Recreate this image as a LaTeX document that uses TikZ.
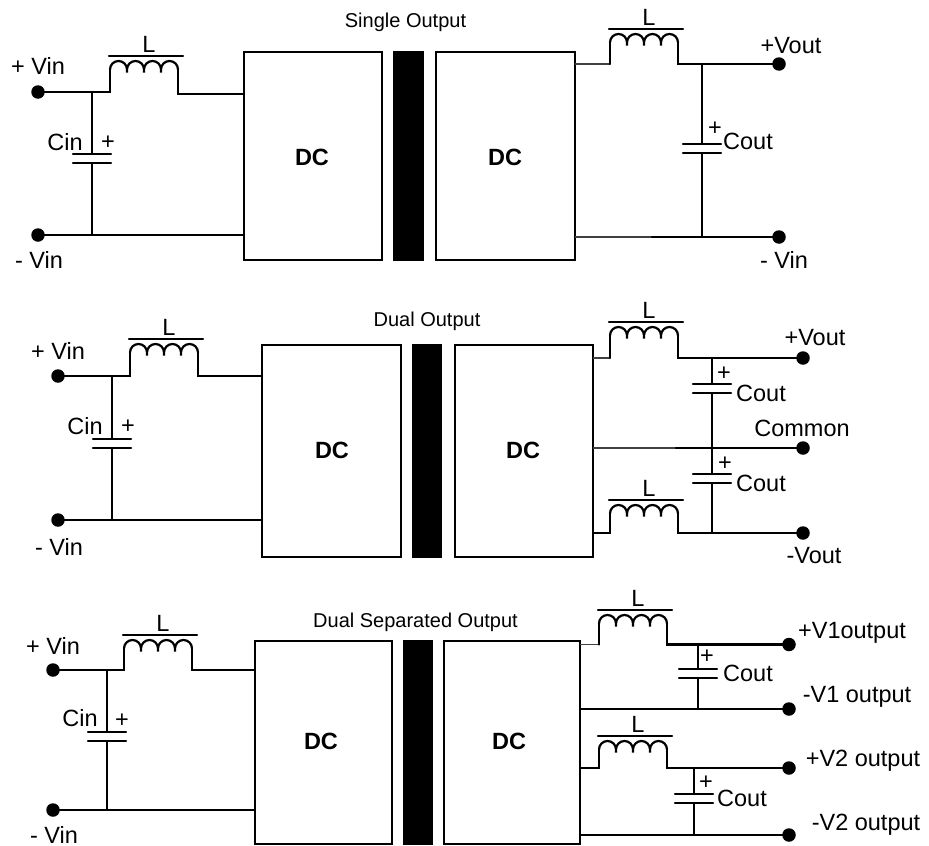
\documentclass[tikz,border=0pt]{standalone}
\usepackage{fontspec}
\setmainfont{Liberation Sans}
\usetikzlibrary{positioning, calc}

\begin{document}
\begin{tikzpicture}
    [
        x=1pt, y=-1pt,
        wire/.style={line width=2.2pt, line cap=round},
        thin_wire/.style={line width=1.4pt, draw=black!75},
        txt/.style={inner sep=0pt, font=\fontsize{23.5}{26}\selectfont},
        title_txt/.style={inner sep=0pt, font=\fontsize{20}{24}\selectfont},
        dc_txt/.style={inner sep=0pt, font=\fontsize{23.5}{26}\selectfont\bfseries},
        dc_box/.style={rectangle, draw=black, line width=2.2pt, inner sep=0pt, outer sep=0pt},
        core_bar/.style={rectangle, fill=black, inner sep=0pt},
        terminal/.style={circle, fill=black, inner sep=0pt, minimum size=13.5pt},
        coil/.pic={
          \coordinate (in) at (0,0);
          \coordinate (out) at (68,0);
          \draw[wire] (in) arc (180:0:8.5pt) -- ++(0,3) -- ++(0,-3) arc (180:0:8.5pt) -- ++(0,3) -- ++(0,-3) arc (180:0:8.5pt) -- ++(0,3) -- ++(0,-3) arc (180:0:8.5pt);
          \draw[wire] (-1,-13.5) -- (73,-13.5);
          \node[txt] (name) at (39,-25) {L};
        },
        cap/.pic={
          \coordinate (in) at (0,0);
          \coordinate (out) at (0,9);
          \draw[wire] (-19,0) -- (19,0);
          \draw[wire] (-19,9) -- (19,9);
        },
    ]

  \useasboundingbox (0,0) rectangle (929,846);

  \node[title_txt] (titleA) at (405.5,22) {Single Output};
  \node[dc_box, minimum width=138pt, minimum height=208pt] (boxA) at (313,156) {};
  \node[core_bar, minimum width=31pt, minimum height=210pt] (barA) at (408.5,156) {};
  \node[dc_box, minimum width=139pt, minimum height=208pt] (boxB) at (505.5,156) {};
  \node[dc_txt] (dcA) at (312,157) {DC};
  \node[dc_txt] (dcB) at (505,157) {DC};
  \node[terminal] (vinPA) at (38,92) {};
  \node[terminal] (vinNA) at (38,235) {};
  \node[terminal] (voutPA) at (779,64) {};
  \node[terminal] (voutNA) at (779,237) {};
  \node[txt] (vinPAtxt) at (38,66) {+ Vin};
  \node[txt] (vinNAtxt) at (39,260) {- Vin};
  \node[txt] (voutPAtxt) at (791,46) {+Vout};
  \node[txt] (voutNAtxt) at (784,260) {- Vin};
  \node[txt] (cinAtxt) at (65,142) {Cin};
  \node[txt] (cinAplus) at (108,143) {+};
  \node[txt] (coutAtxt) at (748,141) {Cout};
  \node[txt] (coutAplus) at (715,129) {+};
  \coordinate (inA) at (244,94);
  \coordinate (outA) at (575,64);
  \coordinate (outNA) at (575,237);
  \coordinate (outNAb) at (652,237);
  \pic (coilA) at (110,69.5) {coil};
  \pic (coilB) at (610,42.5) {coil};
  \pic (capA) at (92,154) {cap};
  \pic (capB) at (702,144) {cap};

  \draw[wire] (vinPA.center) -| (coilAin);
  \draw[wire] (coilAout) |- (inA);
  \draw[wire] (vinNA.center) -- (boxA.west |- vinNA.center);
  \draw[wire] (capAin |- vinPA.center) -- (capAin);
  \draw[wire] (capAout) -- (capAout |- vinNA.center);
  \draw[thin_wire] (outA) -- (coilBin |- outA);
  \draw[wire] (coilBin |- outA) -- (coilBin);
  \draw[wire] (coilBout) |- (voutPA.center);
  \draw[thin_wire] (outNA) -- (outNAb);
  \draw[wire] (outNAb) -- (voutNA.center);
  \draw[wire] (capBin |- voutPA.center) -- (capBin);
  \draw[wire] (capBout) -- (capBout |- voutNA.center);

  \node[title_txt] (titleC) at (427,321) {Dual Output};
  \node[dc_box, minimum width=139pt, minimum height=212pt] (boxC) at (331.5,451) {};
  \node[core_bar, minimum width=30pt, minimum height=214pt] (barC) at (427,451) {};
  \node[dc_box, minimum width=138pt, minimum height=212pt] (boxD) at (524,451) {};
  \node[dc_txt] (dcC) at (332,450) {DC};
  \node[dc_txt] (dcD) at (523,450) {DC};
  \node[terminal] (vinPC) at (58,376) {};
  \node[terminal] (vinNC) at (58,520) {};
  \node[terminal] (voutPC) at (803,358) {};
  \node[terminal] (commonC) at (803,448) {};
  \node[terminal] (voutNC) at (803,533) {};
  \node[txt] (vinPCtxt) at (58,351) {+ Vin};
  \node[txt] (vinNCtxt) at (59,547) {- Vin};
  \node[txt] (voutPCtxt) at (815,338) {+Vout};
  \node[txt] (commonCtxt) at (802,428) {Common};
  \node[txt] (voutNCtxt) at (814,556) {-Vout};
  \node[txt] (cinCtxt) at (85,426) {Cin};
  \node[txt] (cinCplus) at (128,427) {+};
  \node[txt] (coutCtxt) at (761,393) {Cout};
  \node[txt] (coutCplus) at (724,374) {+};
  \node[txt] (coutDtxt) at (761,483) {Cout};
  \node[txt] (coutDplus) at (725,464) {+};
  \coordinate (inC) at (262,376);
  \coordinate (outC) at (593,358);
  \coordinate (outCm) at (593,448);
  \coordinate (outCmb) at (676,448);
  \coordinate (outDn) at (593,533);
  \pic (coilC) at (130,352.5) {coil};
  \pic (coilD) at (610,335.5) {coil};
  \pic (coilE) at (610,513.5) {coil};
  \pic (capC) at (112,439) {cap};
  \pic (capD) at (712,384) {cap};
  \pic (capE) at (712,474) {cap};

  \draw[wire] (vinPC.center) -| (coilCin);
  \draw[wire] (coilCout) |- (inC);
  \draw[wire] (vinNC.center) -- (boxC.west |- vinNC.center);
  \draw[wire] (capCin |- vinPC.center) -- (capCin);
  \draw[wire] (capCout) -- (capCout |- vinNC.center);
  \draw[thin_wire] (outC) -- (coilDin |- outC);
  \draw[wire] (coilDin |- outC) -- (coilDin);
  \draw[wire] (coilDout) |- (voutPC.center);
  \draw[thin_wire] (outCm) -- (outCmb);
  \draw[wire] (outCmb) -- (commonC.center);
  \draw[wire] (outDn) -| (coilEin);
  \draw[wire] (coilEout) |- (voutNC.center);
  \draw[wire] (capDin |- voutPC.center) -- (capDin);
  \draw[wire] (capDout) -- (capEin);
  \draw[wire] (capEout) -- (capEout |- voutNC.center);

  \node[title_txt] (titleF) at (415.5,622) {Dual Separated Output};
  \node[dc_box, minimum width=137pt, minimum height=203pt] (boxF) at (323.5,742.5) {};
  \node[core_bar, minimum width=30pt, minimum height=205pt] (barF) at (418,742.5) {};
  \node[dc_box, minimum width=136pt, minimum height=203pt] (boxG) at (512,742.5) {};
  \node[dc_txt] (dcF) at (321,741) {DC};
  \node[dc_txt] (dcG) at (509,741) {DC};
  \node[terminal] (vinPF) at (53,670) {};
  \node[terminal] (vinNF) at (53,810) {};
  \node[terminal] (vOnePF) at (789,644.5) {};
  \node[terminal] (vOneNF) at (789,709) {};
  \node[terminal] (vTwoPF) at (789,768) {};
  \node[terminal] (vTwoNF) at (789,835) {};
  \node[txt] (vinPFtxt) at (53,646) {+ Vin};
  \node[txt] (vinNFtxt) at (54,835) {- Vin};
  \node[txt] (vOnePFtxt) at (852,633) {+V1output};
  \node[txt] (vOneNFtxt) at (857,697) {-V1 output};
  \node[txt] (vTwoPFtxt) at (863,761) {+V2 output};
  \node[txt] (vTwoNFtxt) at (866,825) {-V2 output};
  \node[txt] (cinFtxt) at (80,718) {Cin};
  \node[txt] (cinFplus) at (122,721) {+};
  \node[txt] (coutFtxt) at (748,673) {Cout};
  \node[txt] (coutFplus) at (707,657) {+};
  \node[txt] (coutGtxt) at (742,798) {Cout};
  \node[txt] (coutGplus) at (706,783) {+};
  \coordinate (inF) at (255,670);
  \coordinate (outF) at (580,644.5);
  \coordinate (outFn) at (580,709);
  \coordinate (outG) at (580,768);
  \coordinate (outGn) at (580,835);
  \pic (coilF) at (124,648.5) {coil};
  \pic (coilG) at (599,623.5) {coil};
  \pic (coilH) at (599,749.5) {coil};
  \pic (capF) at (107,732) {cap};
  \pic (capG) at (698,669) {cap};
  \pic (capH) at (694,794) {cap};

  \draw[wire] (vinPF.center) -| (coilFin);
  \draw[wire] (coilFout) |- (inF);
  \draw[wire] (vinNF.center) -- (boxF.west |- vinNF.center);
  \draw[wire] (capFin |- vinPF.center) -- (capFin);
  \draw[wire] (capFout) -- (capFout |- vinNF.center);
  \draw[thin_wire] (outF) -- (coilGin |- outF);
  \draw[wire] (coilGin |- outF) -- (coilGin);
  \draw[wire] (coilGout) |- (vOnePF.center);
  \draw[wire] (outFn) -- (vOneNF.center);
  \draw[wire] (capGin |- vOnePF.center) -- (capGin);
  \draw[wire] (capGout) -- (capGout |- vOneNF.center);
  \draw[wire] (outG) -| (coilHin);
  \draw[wire] (coilHout) |- (vTwoPF.center);
  \draw[wire] (outGn) -- (vTwoNF.center);
  \draw[wire] (capHin |- vTwoPF.center) -- (capHin);
  \draw[wire] (capHout) -- (capHout |- vTwoNF.center);
\end{tikzpicture}
\end{document}
